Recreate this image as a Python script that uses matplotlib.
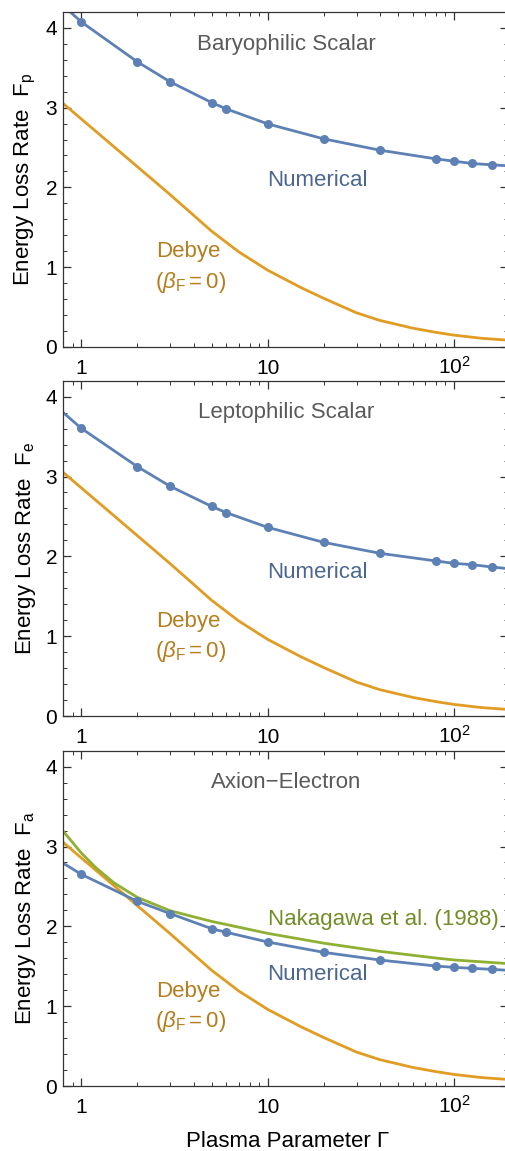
import matplotlib
matplotlib.use("Agg")
import matplotlib.pyplot as plt
from matplotlib.ticker import FixedLocator, MultipleLocator, LogLocator, NullFormatter

plt.rcParams['font.family'] = ['Liberation Sans', 'DejaVu Sans']
plt.rcParams['mathtext.fontset'] = 'custom'
plt.rcParams['mathtext.rm'] = 'Liberation Sans'
plt.rcParams['mathtext.it'] = 'Liberation Sans:italic'
plt.rcParams['mathtext.bf'] = 'Liberation Sans:bold'

# ---- data ----
gamma_dots = [1, 2, 3, 5, 6, 10, 20, 40, 80, 100, 125, 160]
Fp_dots = [4.075, 3.574, 3.323, 3.064, 2.984, 2.796, 2.608, 2.466, 2.357, 2.328, 2.299, 2.282]
Fe_dots = [3.603, 3.123, 2.877, 2.626, 2.547, 2.363, 2.175, 2.038, 1.942, 1.912, 1.896, 1.866]
Fa_dots = [2.651, 2.313, 2.159, 1.971, 1.925, 1.804, 1.674, 1.578, 1.503, 1.486, 1.474, 1.461]

# ends of the numerical curves (left edge, right edge)
gamma_ends = [0.8, 195]
Fp_ends = [4.28, 2.27]
Fe_ends = [3.80, 1.846]
Fa_ends = [2.79, 1.449]

gamma_debye = [0.8, 1, 1.5, 2, 2.5, 3, 4, 5, 7, 10, 15, 20, 30, 40, 60, 80, 100, 140, 195]
F_debye = [3.05, 2.857, 2.507, 2.258, 2.065, 1.907, 1.65, 1.45, 1.19, 0.96, 0.745, 0.607,
           0.425, 0.33, 0.233, 0.18, 0.145, 0.106, 0.082]

gamma_nak = [0.8, 1, 1.2, 1.5, 2, 3, 5, 10, 20, 40, 80, 100, 195]
F_nak = [3.19, 2.918, 2.732, 2.543, 2.362, 2.195, 2.062, 1.912, 1.789, 1.687, 1.603, 1.579, 1.533]

titles = ["Baryophilic Scalar", "Leptophilic Scalar", "Axion\u2212Electron"]
ylabels = [r"Energy Loss Rate  $\mathregular{F_p}$",
           r"Energy Loss Rate  $\mathregular{F_e}$",
           r"Energy Loss Rate  $\mathregular{F_a}$"]
xtick_vals = [1, 10, 100]
xtick_labels = ["1", "10", r"$\mathregular{10^2}$"]

c_blue = "#5E81B5"
c_orange = "#E19C24"
c_green = "#8FB032"
t_blue = "#4B6791"
t_orange = "#B47D1D"
t_green = "#728D28"
t_gray = "#5a5a5a"

W, H = 506, 1151
fig = plt.figure(figsize=(W / 100, H / 100), dpi=100)

left = 63.3 / W
width = (508 - 63.3) / W
panels = [(12, 346.7), (380.7, 716), (750.7, 1086)]   # top, bottom in px
numerical_y = [0.498, 0.428, 0.332]

series = [(Fp_dots, Fp_ends), (Fe_dots, Fe_ends), (Fa_dots, Fa_ends)]

for i, (top, bot) in enumerate(panels):
    ax = fig.add_axes([left, 1 - bot / H, width, (bot - top) / H])
    ax.set_xscale('log')

    ax.plot(gamma_debye, F_debye, color=c_orange, lw=2.0)
    if i == 2:
        ax.plot(gamma_nak, F_nak, color=c_green, lw=2.0)

    dots, ends = series[i]
    xs = [gamma_ends[0]] + gamma_dots + [gamma_ends[1]]
    ys = [ends[0]] + dots + [ends[1]]
    ax.plot(xs, ys, color=c_blue, lw=2.0)
    ax.plot(gamma_dots, dots, 'o', color=c_blue, ms=6.5, mec='none')

    ax.set_xlim(0.8, 195)
    ax.set_ylim(0, 4.2)

    ax.xaxis.set_major_locator(FixedLocator(xtick_vals))
    ax.xaxis.set_minor_locator(LogLocator(base=10, subs=range(2, 10), numticks=20))
    ax.xaxis.set_minor_formatter(NullFormatter())
    ax.set_xticks(xtick_vals)
    labs = ax.set_xticklabels(xtick_labels)
    for t in labs:
        t.set_verticalalignment('baseline')
    ax.yaxis.set_major_locator(MultipleLocator(1))
    ax.yaxis.set_minor_locator(MultipleLocator(0.2))

    ax.tick_params(which='both', direction='in', top=True, right=True, color='#333333')
    ax.tick_params(which='major', length=6, width=0.9)
    ax.tick_params(which='minor', length=3.2, width=0.7)
    ax.tick_params(axis='y', labelsize=15, pad=4.5)
    ax.tick_params(axis='x', labelsize=15, pad=19.4)
    for s in ax.spines.values():
        s.set_color('#333333')
        s.set_linewidth(0.9)

    ax.text(0.5008, 0.904, titles[i], transform=ax.transAxes, ha='center', va='center',
            fontsize=16, color=t_gray)
    ax.text(0.5705, numerical_y[i], "Numerical", transform=ax.transAxes, ha='center',
            va='center', fontsize=16, color=t_blue)
    ax.text(0.2804, 0.283, "Debye", transform=ax.transAxes, ha='center', va='center',
            fontsize=16, color=t_orange)
    ax.text(0.286, 0.193, r"($\beta_{\mathregular{F}}=0$)", transform=ax.transAxes,
            ha='center', va='center', fontsize=16, color=t_orange)
    if i == 2:
        ax.text(0.719, 0.496, "Nakagawa et al. (1988)", transform=ax.transAxes,
                ha='center', va='center', fontsize=16, color=t_green)

    ax.text(-0.084, 0.5, ylabels[i], transform=ax.transAxes, rotation=90,
            ha='center', va='center', fontsize=16)

fig.text(287.5 / W, 1 - 1147 / H, "Plasma Parameter \u0393", ha='center', va='baseline',
         fontsize=16)

fig.savefig('out.png', dpi=100)
